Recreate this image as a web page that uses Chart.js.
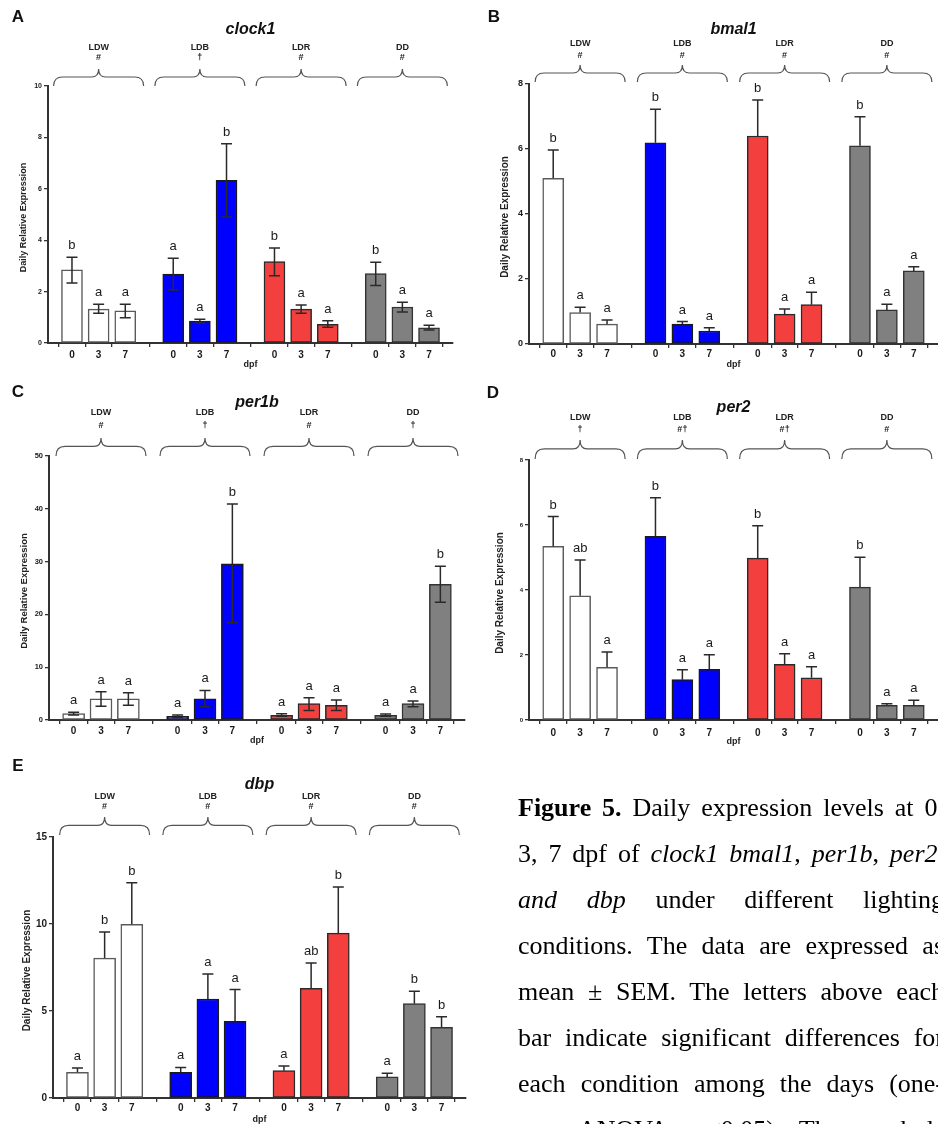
<!DOCTYPE html>
<html>
<head>
<meta charset="utf-8">
<script src="https://cdn.jsdelivr.net/npm/chart.js@4.4.1/dist/chart.umd.min.js"></script>
<style>
html,body{margin:0;padding:0;background:#fff;width:938px;height:1124px;overflow:hidden;position:relative}
canvas.p{position:absolute;left:0;top:0}
#cap{position:absolute;left:518px;top:785px;width:426px;font-family:"Liberation Serif","Times New Roman",serif;font-size:26px;color:#000}
#cap .ln{height:46px;line-height:46px;text-align:justify;text-align-last:justify}
</style>
</head>
<body>
<canvas class="p" id="cA" width="938" height="1124"></canvas>
<canvas class="p" id="cB" width="938" height="1124"></canvas>
<canvas class="p" id="cC" width="938" height="1124"></canvas>
<canvas class="p" id="cD" width="938" height="1124"></canvas>
<canvas class="p" id="cE" width="938" height="1124"></canvas>
<div id="cap">
<div class="ln"><b>Figure 5.</b> Daily expression levels at 0,</div>
<div class="ln">3, 7 dpf of <i>clock1 bmal1</i>, <i>per1b</i>, <i>per2</i>,</div>
<div class="ln"><i>and dbp</i> under different lighting</div>
<div class="ln">conditions. The data are expressed as</div>
<div class="ln">mean ± SEM. The letters above each</div>
<div class="ln">bar indicate significant differences for</div>
<div class="ln">each condition among the days (one-</div>
<div class="ln">way ANOVA, p&lt;0.05). The symbols</div>
</div>
<script>
// ---------- DATA ----------
const GROUPS = ['LDW', 'LDB', 'LDR', 'DD'];
const DAYS = ['0', '3', '7'];
const Y_TITLE = 'Daily Relative Expression';
const X_TITLE = 'dpf';

// A: clock1
const clock1Mean = [2.85, 1.32, 1.25, 2.68, 0.85, 6.33, 3.17, 1.32, 0.73, 2.70, 1.40, 0.59];
const clock1Low  = [2.33, 1.16, 0.98, 2.06, 0.78, 4.90, 2.62, 1.16, 0.61, 2.24, 1.21, 0.51];
const clock1High = [3.34, 1.51, 1.51, 3.30, 0.92, 7.75, 3.70, 1.48, 0.87, 3.14, 1.59, 0.69];
const clock1Letters = ['b', 'a', 'a', 'a', 'a', 'b', 'b', 'a', 'a', 'b', 'a', 'a'];
const clock1Marks = ['#', '†', '#', '#'];

// B: bmal1
const bmal1Mean = [5.10, 0.97, 0.61, 6.19, 0.61, 0.40, 6.40, 0.92, 1.21, 6.10, 1.05, 2.25];
const bmal1High = [5.97, 1.13, 0.74, 7.22, 0.69, 0.50, 7.51, 1.08, 1.59, 6.99, 1.22, 2.38];
const bmal1Letters = ['b', 'a', 'a', 'b', 'a', 'a', 'b', 'a', 'a', 'b', 'a', 'a'];
const bmal1Marks = ['#', '#', '#', '#'];

// C: per1b
const per1bMean = [1.2, 4.0, 4.0, 0.7, 4.0, 29.6, 0.9, 3.1, 2.8, 0.9, 3.1, 25.7];
const per1bLow  = [0.95, 2.6, 2.8, 0.45, 2.5, 18.4, 0.7, 1.8, 1.8, 0.7, 2.5, 22.3];
const per1bHigh = [1.45, 5.35, 5.15, 0.95, 5.6, 40.9, 1.2, 4.2, 3.8, 1.15, 3.6, 29.1];
const per1bLetters = ['a', 'a', 'a', 'a', 'a', 'b', 'a', 'a', 'a', 'a', 'a', 'b'];
const per1bMarks = ['#', '†', '#', '†'];

// D: per2
const per2Mean = [5.34, 3.82, 1.62, 5.65, 1.24, 1.56, 4.98, 1.71, 1.30, 4.09, 0.45, 0.45];
const per2High = [6.26, 4.92, 2.09, 6.84, 1.55, 2.01, 5.98, 2.04, 1.64, 5.01, 0.50, 0.61];
const per2Letters = ['b', 'ab', 'a', 'b', 'a', 'a', 'b', 'a', 'a', 'b', 'a', 'a'];
const per2Marks = ['†', '#†', '#†', '#'];

// E: dbp
const dbpMean = [1.48, 8.04, 9.98, 1.48, 5.69, 4.41, 1.57, 6.30, 9.48, 1.21, 5.42, 4.06];
const dbpHigh = [1.72, 9.54, 12.37, 1.76, 7.13, 6.23, 1.84, 7.76, 12.13, 1.42, 6.13, 4.67];
const dbpLetters = ['a', 'b', 'b', 'a', 'a', 'a', 'a', 'ab', 'b', 'a', 'b', 'b'];
const dbpMarks = ['#', '#', '#', '#'];

// ---------- STYLE / LAYOUT ----------
const FILL = ['#ffffff', '#0000ff', '#f43f3f', '#808080'];
const EDGE = ['#5a5a5a', '#1a1a1a', '#2a2a2a', '#333333'];
const SANS = '"Liberation Sans", Arial, Helvetica, sans-serif';
const X_MIN = -0.9, X_MAX = 14.3, GROUP_STEP = 3.8;
const W = 938, H = 1124;

const panels = [
  { canvas: 'cA', tag: 'A', gene: 'clock1', mean: clock1Mean, low: clock1Low, high: clock1High,
    letters: clock1Letters, marks: clock1Marks, yMax: 10, yStep: 2,
    ca: [48, 86, 453, 343], barW: 21, yTickFont: 7, yTitleFont: 9, yTitleX: 24,
    titleY: 30, groupY: 48, markY: 58, tipY: 69, endY: 86, tagXY: [18, 17], dpfY: 365, xPad: 2 },
  { canvas: 'cB', tag: 'B', gene: 'bmal1', mean: bmal1Mean, low: null, high: bmal1High,
    letters: bmal1Letters, marks: bmal1Marks, yMax: 8, yStep: 2,
    ca: [529, 84, 938, 344], barW: 21, yTickFont: 9, yTitleFont: 10, yTitleX: 505,
    titleY: 30, groupY: 44, markY: 56, tipY: 65, endY: 82, tagXY: [494, 17], dpfY: 365, xPad: 0 },
  { canvas: 'cC', tag: 'C', gene: 'per1b', mean: per1bMean, low: per1bLow, high: per1bHigh,
    letters: per1bLetters, marks: per1bMarks, yMax: 50, yStep: 10,
    ca: [49, 456, 465, 720], barW: 22, yTickFont: 7.5, yTitleFont: 9.5, yTitleX: 24,
    titleY: 403, groupY: 413, markY: 426, tipY: 438, endY: 456, tagXY: [18, 392], dpfY: 741, xPad: 1 },
  { canvas: 'cD', tag: 'D', gene: 'per2', mean: per2Mean, low: null, high: per2High,
    letters: per2Letters, marks: per2Marks, yMax: 8, yStep: 2,
    ca: [529, 460, 938, 720], barW: 21, yTickFont: 6, yTitleFont: 10, yTitleX: 500,
    titleY: 408, groupY: 418, markY: 430, tipY: 440, endY: 459, tagXY: [493, 393], dpfY: 742, xPad: 3 },
  { canvas: 'cE', tag: 'E', gene: 'dbp', mean: dbpMean, low: null, high: dbpHigh,
    letters: dbpLetters, marks: dbpMarks, yMax: 15, yStep: 5,
    ca: [53, 837, 466, 1098], barW: 22, yTickFont: 10, yTitleFont: 10, yTitleX: 27,
    titleY: 785, groupY: 797, markY: 807, tipY: 817, endY: 835, tagXY: [18, 766], dpfY: 1120, xPad: 0 }
];

// bar x-positions on the linear category axis (group index * step + day index)
const POS = [];
GROUPS.forEach((g, gi) => DAYS.forEach((d, di) => POS.push(gi * GROUP_STEP + di)));

function drawBrace(ctx, xc, half, yTip, yEnd) {
  const yMid = yTip + (yEnd - yTip) * 0.47;
  const r = 9;
  ctx.beginPath();
  ctx.moveTo(xc - half, yEnd);
  ctx.quadraticCurveTo(xc - half, yMid, xc - half + r, yMid);
  ctx.lineTo(xc - 7, yMid);
  ctx.quadraticCurveTo(xc, yMid, xc, yTip);
  ctx.quadraticCurveTo(xc, yMid, xc + 7, yMid);
  ctx.lineTo(xc + half - r, yMid);
  ctx.quadraticCurveTo(xc + half, yMid, xc + half, yEnd);
  ctx.stroke();
}

function makePlugin(P) {
  return {
    id: 'annot' + P.tag,
    afterDatasetsDraw(chart) {
      const ctx = chart.ctx, xs = chart.scales.x, ys = chart.scales.y;
      ctx.save();
      ctx.strokeStyle = '#2a2a2a';
      ctx.lineWidth = 1.5;
      const cap = 5.5;
      P.mean.forEach((m, i) => {
        const x = xs.getPixelForValue(POS[i]);
        const yTop = ys.getPixelForValue(P.high[i]);
        const yBot = P.low ? ys.getPixelForValue(P.low[i]) : ys.getPixelForValue(m);
        ctx.beginPath();
        ctx.moveTo(x, yBot); ctx.lineTo(x, yTop);
        ctx.moveTo(x - cap, yTop); ctx.lineTo(x + cap, yTop);
        if (P.low) { ctx.moveTo(x - cap, yBot); ctx.lineTo(x + cap, yBot); }
        ctx.stroke();
        // significance letters
        ctx.fillStyle = '#1a1a1a';
        ctx.font = '13px ' + SANS;
        ctx.textAlign = 'center';
        ctx.textBaseline = 'alphabetic';
        ctx.fillText(P.letters[i], x, yTop - 8);
      });
      ctx.restore();
    },
    afterDraw(chart) {
      const ctx = chart.ctx, xs = chart.scales.x, ca = chart.chartArea;
      ctx.save();
      ctx.fillStyle = '#111';
      ctx.textAlign = 'center';
      ctx.textBaseline = 'middle';
      // panel tag
      ctx.font = 'bold 17px ' + SANS;
      ctx.fillText(P.tag, P.tagXY[0], P.tagXY[1]);
      // gene title
      const cx = (P.ca[0] + P.ca[2]) / 2;
      ctx.font = 'italic bold 16px ' + SANS;
      ctx.fillText(P.gene, cx, P.titleY);
      // groups + braces
      ctx.strokeStyle = '#555';
      ctx.lineWidth = 1.2;
      GROUPS.forEach((g, gi) => {
        const gx = xs.getPixelForValue(POS[gi * 3 + 1]);
        ctx.font = 'bold 9px ' + SANS;
        ctx.fillStyle = '#222';
        ctx.fillText(g, gx, P.groupY);
        ctx.fillText(P.marks[gi], gx, P.markY);
        drawBrace(ctx, gx, 45, P.tipY, P.endY);
      });
      // x title
      ctx.font = 'bold 9px ' + SANS;
      ctx.fillText(X_TITLE, cx, P.dpfY);
      // y title
      ctx.save();
      ctx.translate(P.yTitleX, (ca.top + ca.bottom) / 2 + 3);
      ctx.rotate(-Math.PI / 2);
      ctx.font = 'bold ' + P.yTitleFont + 'px ' + SANS;
      ctx.fillText(Y_TITLE, 0, 0);
      ctx.restore();
      ctx.restore();
    }
  };
}

const Y_AXIS_W = 24, X_AXIS_H = 20;

panels.forEach(P => {
  const data = P.mean.map((v, i) => ({ x: POS[i], y: v }));
  const bg = P.mean.map((v, i) => FILL[Math.floor(i / 3)]);
  const bc = P.mean.map((v, i) => EDGE[Math.floor(i / 3)]);
  new Chart(document.getElementById(P.canvas), {
    type: 'bar',
    data: {
      datasets: [{
        data: data,
        backgroundColor: bg,
        borderColor: bc,
        borderWidth: 1.5,
        borderSkipped: false,
        barThickness: P.barW
      }]
    },
    options: {
      responsive: false,
      animation: false,
      devicePixelRatio: 1,
      layout: {
        padding: {
          left: P.ca[0] - Y_AXIS_W,
          top: P.ca[1],
          right: Math.max(0, W - P.ca[2]),
          bottom: H - P.ca[3] - X_AXIS_H
        }
      },
      plugins: { legend: { display: false }, tooltip: { enabled: false }, title: { display: false } },
      scales: {
        x: {
          type: 'linear',
          min: X_MIN, max: X_MAX,
          offset: false,
          afterBuildTicks: s => { s.ticks = POS.map(v => ({ value: v })); },
          afterFit: s => { s.height = X_AXIS_H; },
          ticks: {
            autoSkip: false, maxRotation: 0, padding: P.xPad,
            color: '#1a1a1a',
            font: { family: SANS, size: 10, weight: 'bold' },
            callback: (v, i) => DAYS[i % 3]
          },
          grid: { drawOnChartArea: false, drawTicks: true, tickLength: 4, color: '#333', lineWidth: 1.3 },
          border: { display: true, color: '#333', width: 2 }
        },
        y: {
          min: 0, max: P.yMax,
          afterFit: s => { s.width = Y_AXIS_W; },
          ticks: {
            stepSize: P.yStep, padding: 2, color: '#1a1a1a',
            font: { family: SANS, size: P.yTickFont, weight: 'bold' }
          },
          grid: { drawOnChartArea: false, drawTicks: true, tickLength: 4, color: '#333', lineWidth: 1.3 },
          border: { display: true, color: '#333', width: 2 }
        }
      }
    },
    plugins: [makePlugin(P)]
  });
});
</script>
</body>
</html>
